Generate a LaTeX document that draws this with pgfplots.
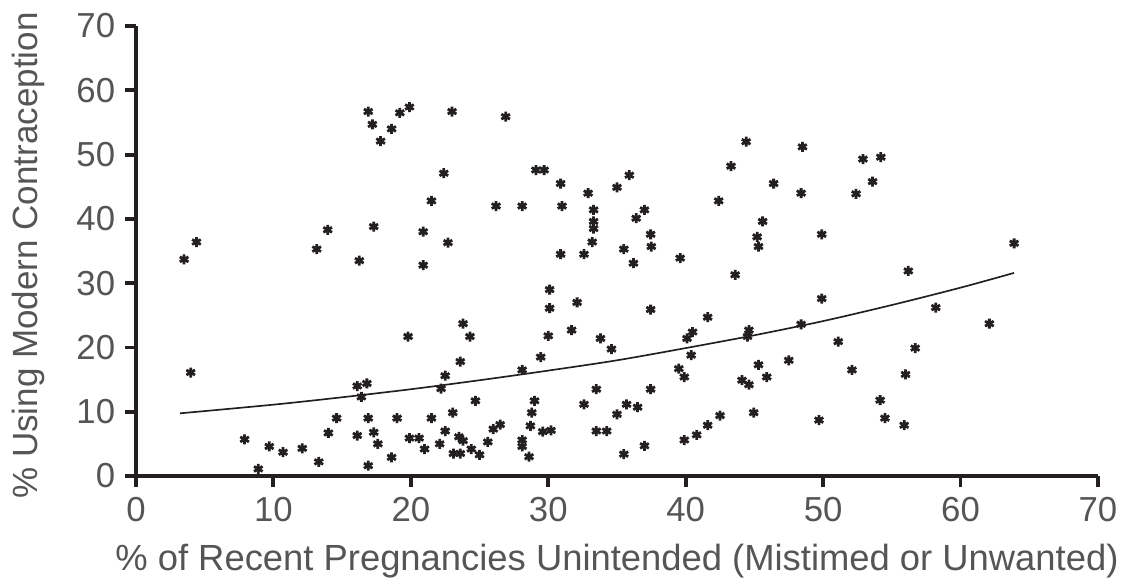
\documentclass[border=0pt]{standalone}
\usepackage{fontspec}
\setmainfont{Liberation Sans}
\usepackage{pgfplots}
\pgfplotsset{compat=1.18}
\definecolor{axisblack}{HTML}{231F20}
\definecolor{txtgray}{HTML}{555555}
\pgfplotstableread{
x y
16.9 56.7
17.2 54.7
17.8 52.1
18.6 54.0
19.2 56.5
19.9 57.4
23.0 56.7
26.9 55.9
22.4 47.1
21.5 42.8
26.2 42.0
4.4 36.4
3.5 33.7
13.95 38.3
17.3 38.8
20.9 38.0
22.7 36.3
13.15 35.3
16.25 33.5
20.9 32.8
23.8 23.7
24.3 21.7
19.8 21.7
23.6 17.8
22.5 15.6
22.2 13.6
24.7 11.7
3.98 16.1
16.1 14.0
16.8 14.4
16.4 12.3
14.6 9.0
16.9 9.0
19.0 9.0
21.5 9.0
23.05 9.85
14.0 6.7
16.1 6.3
17.3 6.8
17.6 5.0
7.9 5.7
9.7 4.6
10.7 3.7
12.1 4.3
13.3 2.2
8.9 1.1
16.9 1.6
18.6 2.9
19.9 5.9
20.6 5.9
21.0 4.2
22.1 5.0
22.5 7.0
23.5 6.1
23.8 5.5
23.1 3.5
23.6 3.5
24.4 4.2
25.0 3.3
25.6 5.3
26.0 7.3
26.5 8.0
29.1 47.6
29.7 47.6
30.9 45.5
32.9 44.0
35.9 46.8
35.0 44.9
28.1 42.0
31.0 42.0
33.3 41.4
33.3 39.6
33.3 38.5
33.2 36.4
37.0 41.4
36.4 40.1
37.45 37.6
37.5 35.7
35.5 35.3
30.9 34.5
32.6 34.5
36.2 33.1
39.6 33.9
43.6 31.3
44.4 52.0
48.5 51.2
43.3 48.2
46.4 45.5
48.4 44.0
42.4 42.8
45.6 39.6
45.2 37.2
45.3 35.7
49.9 37.6
30.1 29.0
30.1 26.1
32.1 27.0
37.45 25.9
49.9 27.6
41.6 24.7
30.0 21.8
31.7 22.7
33.8 21.4
34.6 19.75
29.45 18.5
40.5 22.4
40.1 21.4
40.4 18.8
44.6 22.7
44.5 21.7
48.4 23.6
28.1 16.5
39.5 16.7
39.9 15.4
45.3 17.3
47.5 18.0
44.1 14.9
44.6 14.2
45.9 15.4
33.5 13.5
37.45 13.5
29.0 11.7
32.6 11.15
35.7 11.15
36.5 10.7
35.0 9.6
28.8 9.85
28.7 7.8
29.6 6.9
30.2 7.1
28.1 5.6
28.1 4.6
28.6 3.0
33.5 7.0
34.25 7.0
35.5 3.4
37.0 4.7
39.9 5.6
40.8 6.4
41.6 7.9
42.5 9.4
44.95 9.85
49.7 8.7
52.9 49.3
54.2 49.6
53.6 45.8
52.4 43.9
63.9 36.2
56.2 31.9
58.2 26.2
62.1 23.7
51.1 20.9
56.7 19.9
52.1 16.5
56.0 15.8
54.15 11.8
54.5 9.0
55.9 7.9
}\scatterdata
\pgfplotstableread{
x y
3.2 9.75
10 11.1
15 12.25
20 13.5
25 14.9
30 16.4
35 18.0
40 19.9
45 21.9
50 24.1
55 26.6
60 29.3
63.9 31.6
}\trenddata
\begin{document}
\begin{tikzpicture}
\path[use as bounding box] (-48.96pt,-38.52pt) rectangle (354.96pt,171.36pt);
\begin{axis}[
  at={(0,0)}, anchor=south west,
  scale only axis, width=346.3pt, height=162pt,
  xmin=0, xmax=70, ymin=0, ymax=70,
  xtick={0,10,...,70}, ytick={0,10,...,70},
  axis x line*=bottom, axis y line*=left,
  tick align=outside, major tick length=4pt,
  tick style={axisblack, line width=1.4pt},
  axis line style={axisblack, line width=1.5pt},
  /pgf/number format/assume math mode=true,
  ticklabel style={font=\fontsize{12.5}{15}\selectfont, text=txtgray},
  xlabel style={font=\fontsize{13.1}{15}\selectfont, text=txtgray},
  ylabel style={font=\fontsize{12.6}{15}\selectfont, text=txtgray},
  xlabel={\% of Recent Pregnancies Unintended (Mistimed or Unwanted)},
  ylabel={\% Using Modern Contraception},
  xlabel style={at={(axis description cs:0.5,-0.2099)}, anchor=base},
  ylabel style={at={(axis description cs:-0.1022,0.49)}, anchor=base, rotate=0},
  clip=false,
]
\addplot[only marks, mark=asterisk, mark size=1.8pt, axisblack, line width=1pt] table[x=x,y=y] {\scatterdata};
\addplot[axisblack, line width=0.6pt, smooth, no marks] table[x=x,y=y] {\trenddata};
\end{axis}
\end{tikzpicture}
\end{document}
